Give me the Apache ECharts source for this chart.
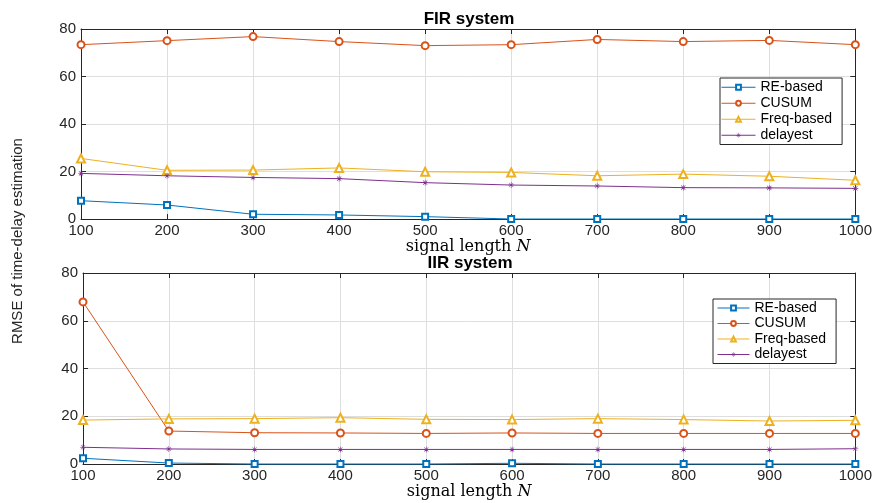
<!DOCTYPE html>
<html>
<head>
<meta charset="utf-8">
<script src="https://cdn.jsdelivr.net/npm/echarts@6/dist/echarts.min.js"></script>
<style>
  html, body { margin: 0; padding: 0; background: #ffffff; }
  #chart { width: 875px; height: 503px; }
</style>
</head>
<body>
<div id="chart"></div>
<script>
// Signal lengths N on the x axis
const signalLengths = [100, 200, 300, 400, 500, 600, 700, 800, 900, 1000];
const methodNames = ['RE-based', 'CUSUM', 'Freq-based', 'delayest'];

// RMSE of time-delay estimation, FIR system
const firRE       = [7.7, 5.9, 2.0, 1.7, 1.0, 0, 0, 0, 0, 0];
const firCUSUM    = [73.4, 75.1, 76.8, 74.7, 73.0, 73.4, 75.6, 74.7, 75.2, 73.4];
const firFreq     = [25.5, 20.5, 20.6, 21.5, 19.9, 19.6, 18.2, 18.9, 18.0, 16.3];
const firDelayest = [19.2, 18.2, 17.5, 17.0, 15.3, 14.3, 13.9, 13.2, 13.1, 12.9];

// RMSE of time-delay estimation, IIR system
const iirRE       = [2.4, 0.4, 0, 0, 0, 0.3, 0, 0, 0, 0];
const iirCUSUM    = [67.9, 13.8, 13.1, 13.0, 12.8, 13.0, 12.8, 12.8, 12.8, 12.8];
const iirFreq     = [18.4, 18.9, 19.0, 19.4, 18.7, 18.6, 19.0, 18.6, 18.0, 18.3];
const iirDelayest = [7.0, 6.3, 6.1, 6.1, 6.1, 6.1, 6.1, 6.1, 6.1, 6.4];

// Axis ranges and tick spacing
const xRange = { min: 100, max: 1000, step: 100 };
const yRange = { min: 0, max: 80, step: 20 };

const colors = ['#0072BD', '#D95319', '#EDB120', '#7E2F8E'];
const asterisk = 'path://M-0.45,-5L0.45,-5L0.45,5L-0.45,5Z' +
  'M-5,-0.45L5,-0.45L5,0.45L-5,0.45Z' +
  'M-3.85,-3.2L-3.2,-3.85L3.85,3.2L3.2,3.85Z' +
  'M3.2,-3.85L3.85,-3.2L-3.2,3.85L-3.85,3.2Z';
const symbols = [
  { symbol: 'emptyRect', size: 6 },
  { symbol: 'emptyCircle', size: 7 },
  { symbol: 'emptyTriangle', size: 8 },
  { symbol: asterisk, size: 6 }
];

const axisColor = '#262626';
const gridColor = '#dedede';
const sansFont = '"Liberation Sans", Arial, Helvetica, sans-serif';
const serifFont = '"DejaVu Serif", "Liberation Serif", serif';

const grids = [
  { left: 81, right: 17, top: 29, height: 190 },
  { left: 83, right: 16, top: 273, height: 191 }
];

const plainNumber = v => String(v);

function bottomX(gridIndex) {
  return {
    type: 'value', gridIndex, position: 'bottom',
    min: xRange.min, max: xRange.max, interval: xRange.step,
    axisLine: { show: true, onZero: false, lineStyle: { color: axisColor, width: 1 } },
    axisTick: { show: true, inside: true, length: 5, lineStyle: { color: axisColor } },
    axisLabel: { color: axisColor, fontSize: 15, fontFamily: sansFont, margin: 4, formatter: plainNumber },
    splitLine: { show: true, lineStyle: { color: gridColor, width: 1 } },
    name: '{a|signal length }{b|N}',
    nameLocation: 'middle', nameGap: 17,
    nameTextStyle: {
      verticalAlign: 'top',
      rich: {
        a: { fontFamily: serifFont, fontSize: 16, color: '#000' },
        b: { fontFamily: serifFont, fontSize: 16, fontStyle: 'italic', color: '#000' }
      }
    }
  };
}
function topX(gridIndex) {
  return {
    type: 'value', gridIndex, position: 'top',
    min: xRange.min, max: xRange.max, interval: xRange.step,
    axisLine: { show: true, onZero: false, lineStyle: { color: axisColor, width: 1 } },
    axisTick: { show: true, inside: true, length: 5, lineStyle: { color: axisColor } },
    axisLabel: { show: false },
    splitLine: { show: false }
  };
}
function leftY(gridIndex) {
  return {
    type: 'value', gridIndex, position: 'left',
    min: yRange.min, max: yRange.max, interval: yRange.step,
    axisLine: { show: true, onZero: false, lineStyle: { color: axisColor, width: 1 } },
    axisTick: { show: true, inside: true, length: 5, lineStyle: { color: axisColor } },
    axisLabel: { color: axisColor, fontSize: 15, fontFamily: sansFont, margin: 5, formatter: plainNumber },
    splitLine: { show: true, lineStyle: { color: gridColor, width: 1 } }
  };
}
function rightY(gridIndex) {
  return {
    type: 'value', gridIndex, position: 'right',
    min: yRange.min, max: yRange.max, interval: yRange.step,
    axisLine: { show: true, onZero: false, lineStyle: { color: axisColor, width: 1 } },
    axisTick: { show: true, inside: true, length: 5, lineStyle: { color: axisColor } },
    axisLabel: { show: false },
    splitLine: { show: false }
  };
}

function makeSeries(values, methodIndex, panel) {
  return {
    type: 'line',
    name: methodNames[methodIndex],
    xAxisIndex: panel * 2,
    yAxisIndex: panel * 2,
    data: signalLengths.map((n, i) => [n, values[i]]),
    symbol: symbols[methodIndex].symbol,
    symbolSize: symbols[methodIndex].size,
    showAllSymbol: true,
    clip: false,
    color: colors[methodIndex],
    lineStyle: { width: 1, color: colors[methodIndex] },
    itemStyle: { color: colors[methodIndex], borderWidth: 1 },
    emphasis: { disabled: true },
    animation: false
  };
}

const firSets = [firRE, firCUSUM, firFreq, firDelayest];
const iirSets = [iirRE, iirCUSUM, iirFreq, iirDelayest];

const series = [];
firSets.forEach((v, k) => series.push(makeSeries(v, k, 0)));
iirSets.forEach((v, k) => series.push(makeSeries(v, k, 1)));

function legendAt(left, top, padding, fontSize, lineHeight, gap, itemWidth) {
  return {
    orient: 'vertical', left, top,
    data: methodNames,
    backgroundColor: '#ffffff',
    borderColor: axisColor, borderWidth: 1, borderRadius: 0,
    padding, itemGap: gap, itemWidth, itemHeight: 6,
    selectedMode: false,
    lineStyle: { width: 1 },
    itemStyle: { borderWidth: 1 },
    textStyle: { fontSize, lineHeight, fontFamily: sansFont, color: '#000' }
  };
}

const chart = echarts.init(document.getElementById('chart'), null, { renderer: 'canvas' });
chart.setOption({
  backgroundColor: '#ffffff',
  animation: false,
  grid: grids,
  xAxis: [bottomX(0), topX(0), bottomX(1), topX(1)],
  yAxis: [leftY(0), rightY(0), leftY(1), rightY(1)],
  legend: [
    legendAt(720, 78, [2, 10, 2, 1], 14, 14.5, 1.5, 34),
    legendAt(713, 299, [2, 10, 2, 4], 14, 14, 1.5, 32)
  ],
  series,
  graphic: [
    {
      type: 'text',
      x: 469, y: 19,
      style: { text: 'FIR system', font: 'bold 17px ' + sansFont, fill: '#000',
               textAlign: 'center', textVerticalAlign: 'middle' }
    },
    {
      type: 'text',
      x: 470, y: 263,
      style: { text: 'IIR system', font: 'bold 17px ' + sansFont, fill: '#000',
               textAlign: 'center', textVerticalAlign: 'middle' }
    },
    {
      type: 'text',
      x: 18, y: 241, rotation: Math.PI / 2,
      style: { text: 'RMSE of time-delay estimation', font: '15px ' + sansFont, fill: '#262626',
               textAlign: 'center', textVerticalAlign: 'middle' }
    }
  ]
});
</script>
</body>
</html>
